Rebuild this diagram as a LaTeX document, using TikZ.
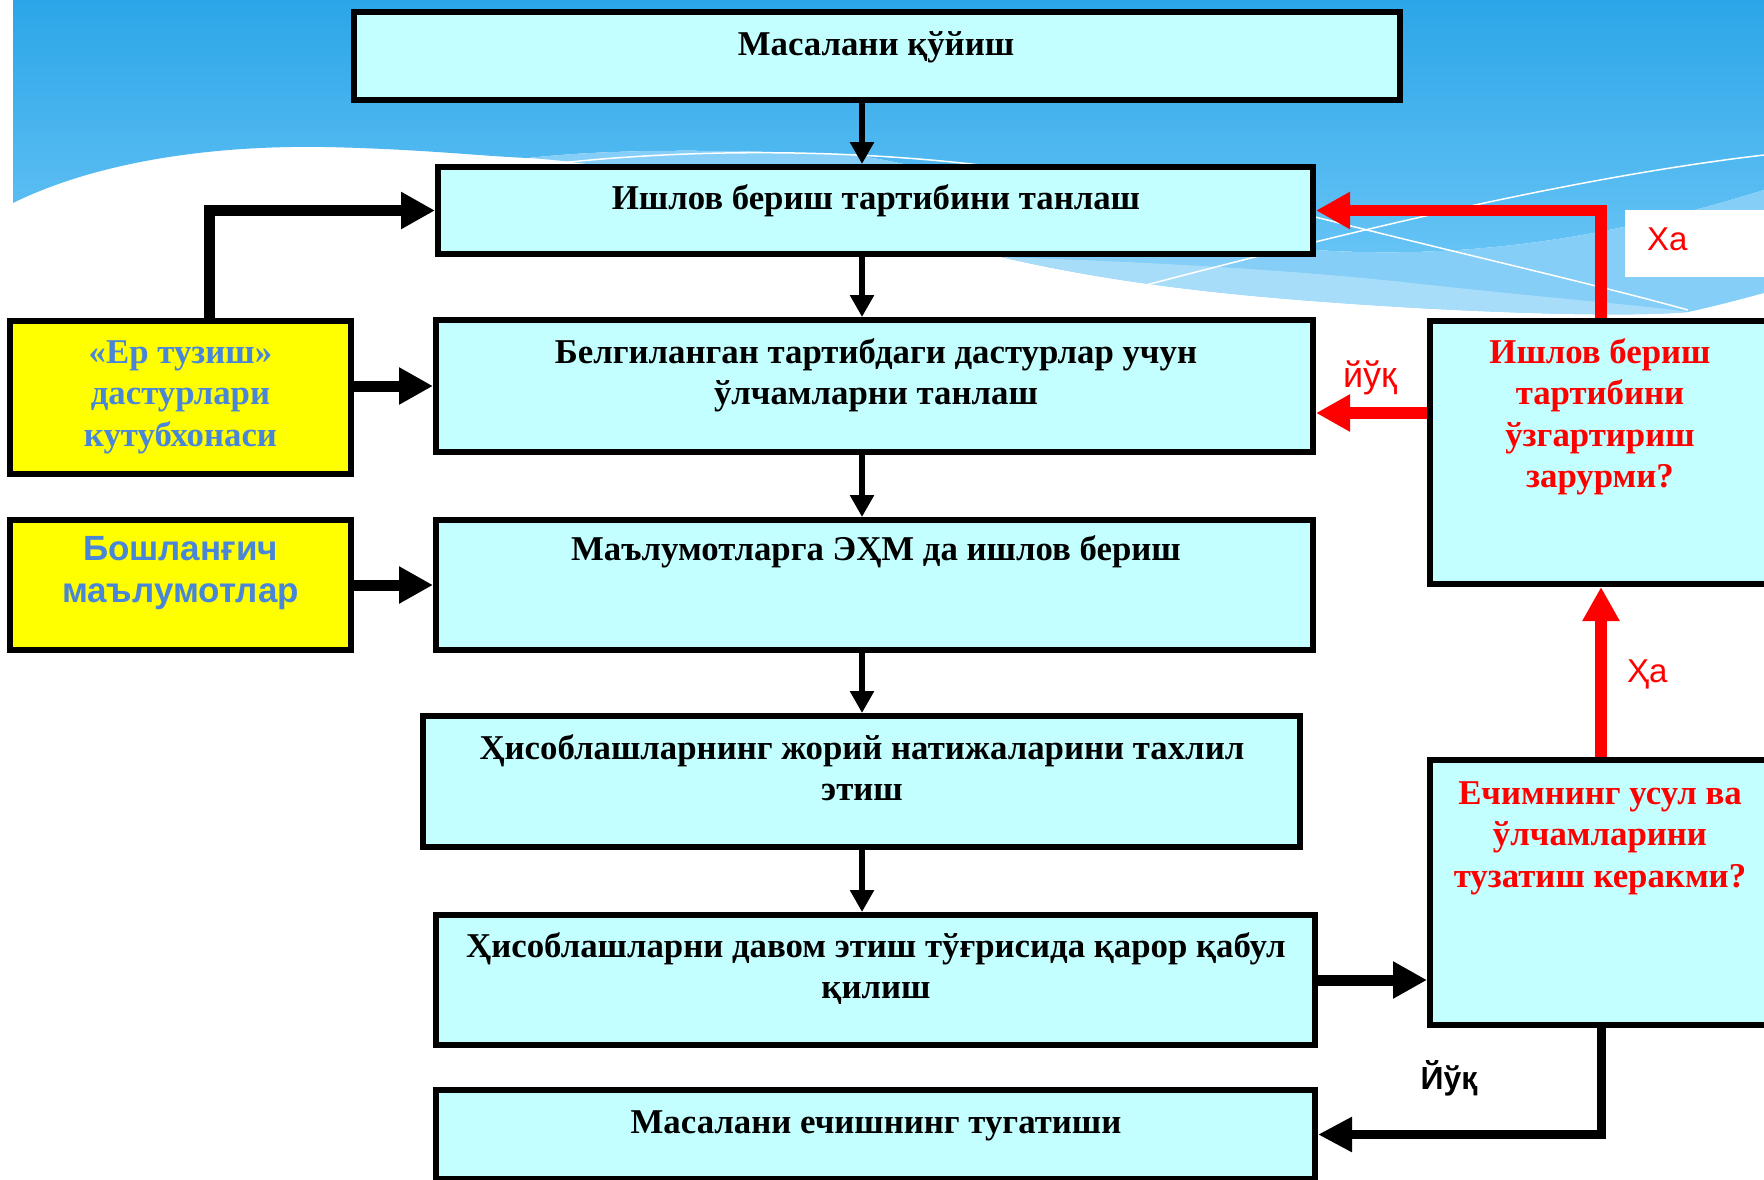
\documentclass[tikz,border=0pt]{standalone}
\usepackage{fontspec}
\setmainfont{Liberation Serif}
\newfontfamily\lsans{Liberation Sans}
\usetikzlibrary{arrows.meta}
\definecolor{boxfill}{RGB}{196,255,255}
\definecolor{ylw}{RGB}{255,255,0}
\definecolor{txtblue}{RGB}{74,134,216}
\definecolor{redc}{RGB}{255,0,0}
\definecolor{skytop}{RGB}{43,166,232}
\definecolor{skybot}{RGB}{104,196,245}
\definecolor{band}{RGB}{132,206,247}
\definecolor{bandlt}{RGB}{168,221,250}
\newcommand\tstrut{\rule{0pt}{34pt}}
\tikzset{
  box/.style={draw=black, line width=6pt, fill=boxfill, inner sep=0pt},
  ybox/.style={box, fill=ylw},
  btxt/.style={font=\fontsize{34.8}{41.5}\selectfont\bfseries, align=center, inner sep=0pt, anchor=north},
  lbl/.style={font=\lsans\fontsize{33}{36}\selectfont, inner sep=0pt, anchor=base},
  thinarrow/.style={draw=black, line width=6.5pt, -{Triangle[length=22pt,width=23pt]}},
  thickarrow/.style={draw=black, line width=11pt, -{Triangle[length=34pt,width=35pt]}},
  routearrow/.style={draw=black, line width=9pt, -{Triangle[length=34pt,width=33pt]}},
  redarrow/.style={draw=redc, line width=11.5pt, -{Triangle[length=34pt,width=35pt]}},
  wline/.style={draw=white, line width=1.5pt}
}
\begin{document}
\begin{tikzpicture}[x=1pt,y=-1pt]
\useasboundingbox (0,0) rectangle (1764,1179);
\fill[white] (0,0) rectangle (1764,1179);
% background
\shade[top color=skytop, bottom color=skybot]
  (13,0) -- (1764,0) -- (1764,190) .. controls (1650,225) and (1500,262) .. (1316,250)
  .. controls (1100,230) and (950,165) .. (850,155)
  .. controls (700,148) and (600,150) .. (528,158)
  .. controls (480,156) and (420,149) .. (325,147)
  .. controls (200,145) and (90,165) .. (13,203) -- cycle;
\fill[band]
  (528,158) .. controls (600,150) and (700,148) .. (850,155)
  .. controls (950,165) and (1100,230) .. (1316,250)
  .. controls (1500,262) and (1650,225) .. (1764,190)
  -- (1764,293) .. controls (1745,298) and (1720,305) .. (1688,312)
  .. controls (1620,318) and (1450,312) .. (1300,300)
  .. controls (1200,292) and (1100,280) .. (1001,257)
  .. controls (850,220) and (650,165) .. (528,158) -- cycle;
\fill[bandlt]
  (1001,257) .. controls (1150,262) and (1300,270) .. (1430,285)
  .. controls (1550,298) and (1650,306) .. (1688,312)
  .. controls (1620,318) and (1450,312) .. (1300,300)
  .. controls (1200,292) and (1100,280) .. (1001,257) -- cycle;
\draw[wline] (560,163) .. controls (700,148) and (850,150) .. (980,165);
\draw[wline] (1146,285) .. controls (1300,245) and (1550,180) .. (1764,155);
\draw[wline] (1250,200) .. controls (1400,240) and (1580,280) .. (1688,310);
\fill[white] (1625,210) rectangle (1764,277);

% boxes
\node[box, minimum width=1046pt, minimum height=88pt] (b1) at (877,56) {};
\node[box, minimum width=875pt, minimum height=87pt] (b2) at (875.5,210.5) {};
\node[box, minimum width=877pt, minimum height=132pt] (b3) at (874.5,386) {};
\node[box, minimum width=877pt, minimum height=130pt] (b4) at (874.5,585) {};
\node[box, minimum width=877pt, minimum height=131pt] (b5) at (861.5,781.5) {};
\node[box, minimum width=879pt, minimum height=130pt] (b6) at (875.5,980) {};
\node[box, minimum width=879pt, minimum height=89pt] (b7) at (875.5,1134.5) {};
\node[ybox, minimum width=341pt, minimum height=153pt] (y1) at (180.5,397.5) {};
\node[ybox, minimum width=341pt, minimum height=130pt] (y2) at (180.5,585) {};
\node[box, minimum width=342pt, minimum height=263pt] (r1) at (1601,452.5) {};
\node[box, minimum width=342pt, minimum height=265pt] (r2) at (1601,892.5) {};

% texts
\node[btxt] (t1) at (876,21) {\tstrut Масалани қўйиш};
\node[btxt] (t2) at (876,175) {\tstrut Ишлов бериш тартибини танлаш};
\node[btxt] (t3) at (876,329) {\tstrut Белгиланган тартибдаги дастурлар учун\\ўлчамларни танлаш};
\node[btxt] (t4) at (876,526) {\tstrut Маълумотларга ЭҲМ да ишлов бериш};
\node[btxt] (t5) at (862,725) {\tstrut Ҳисоблашларнинг жорий натижаларини тахлил\\этиш};
\node[btxt] (t6) at (876,923) {\tstrut Ҳисоблашларни давом этиш тўғрисида қарор қабул\\қилиш};
\node[btxt] (t7) at (876,1099) {\tstrut Масалани ечишнинг тугатиши};
\node[btxt, text=txtblue] (ty1) at (180.5,329) {\tstrut «Ер тузиш»\\дастурлари\\кутубхонаси};
\node[btxt, text=txtblue, font=\lsans\fontsize{35}{42}\selectfont\bfseries] (ty2) at (180.5,526) {\tstrut Бошланғич\\маълумотлар};
\node[btxt, text=redc] (tr1) at (1600,329) {\tstrut Ишлов бериш\\тартибини\\ўзгартириш\\зарурми?};
\node[btxt, text=redc] (tr2) at (1600,770) {\tstrut Ечимнинг усул ва\\ўлчамларини\\тузатиш керакми?};

% labels
\node[lbl, text=redc, anchor=base west] (l1) at (1647,250) {Ха};
\node[lbl, text=redc, font=\lsans\fontsize{36}{40}\selectfont] (l2) at (1370,387) {йўқ};
\node[lbl, text=redc, anchor=base west] (l3) at (1627,682) {Ҳа};
\node[lbl, font=\lsans\fontsize{32}{36}\selectfont\bfseries] (l4) at (1449,1089) {Йўқ};

% connectors
\coordinate (ax) at (862,0);
\coordinate (yx) at (209,0);
\coordinate (ry) at (0,413);
\draw[thinarrow] (b1.south -| ax) -- (b2.north -| ax);
\draw[thinarrow] (b2.south -| ax) -- (b3.north -| ax);
\draw[thinarrow] (b3.south -| ax) -- (b4.north -| ax);
\draw[thinarrow] (b4.south -| ax) -- (b5.north -| ax);
\draw[thinarrow] (b5.south -| ax) -- (b6.north -| ax);
\draw[thickarrow] (y1.north -| yx) |- (b2.west);
\draw[thickarrow] (y1.east |- b3.west) -- (b3.west);
\draw[thickarrow] (y2.east) -- (b4.west);
\draw[thickarrow] (b6.east) -- (b6.east -| r2.west);
\draw[routearrow] (r2.south) |- (b7.east);
\draw[redarrow] (r2.north) -- (r1.south);
\draw[redarrow] (r1.north) |- (b2.east);
\draw[redarrow] (r1.west |- ry) -- (b3.east |- ry);
\end{tikzpicture}
\end{document}
